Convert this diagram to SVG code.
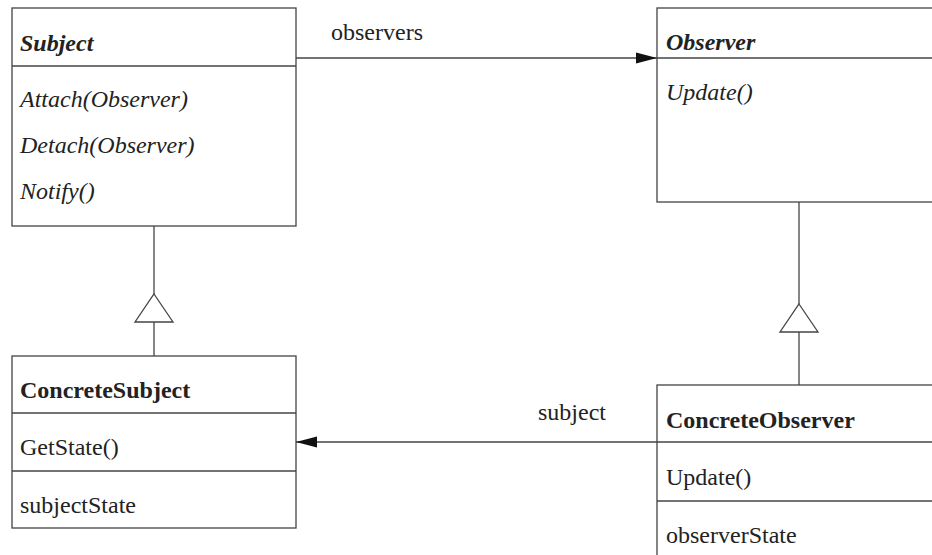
<svg xmlns="http://www.w3.org/2000/svg" width="932" height="555" viewBox="0 0 932 555">
<style>
.box{fill:#fff;stroke:#444;stroke-width:1.3}
.ln{stroke:#444;stroke-width:1.3;fill:none}
.t{font-family:'Liberation Serif','DejaVu Serif',serif;font-size:24px;fill:#222}
.b{font-weight:bold}
.i{font-style:italic}
.tri{fill:#fff;stroke:#444;stroke-width:1.3}
</style>
<defs>
<marker id="arr" markerWidth="22" markerHeight="12" refX="21" refY="6" orient="auto" markerUnits="userSpaceOnUse">
<path d="M0,0.5 L21,6 L0,11.5 Z" fill="#111"/>
</marker>
</defs>
<rect x="0" y="0" width="932" height="555" fill="#fff"/>
<g id="connectors">
<line class="ln" x1="296" y1="58" x2="657" y2="58" marker-end="url(#arr)"/>
<text class="t" x="331" y="40">observers</text>
<line class="ln" x1="657" y1="442" x2="296" y2="442" marker-end="url(#arr)"/>
<text class="t" x="538" y="420">subject</text>
<line class="ln" x1="154" y1="226" x2="154" y2="294"/>
<polygon class="tri" points="154,294 173,322 135,322"/>
<line class="ln" x1="154" y1="322" x2="154" y2="356"/>
<line class="ln" x1="799" y1="202" x2="799" y2="304"/>
<polygon class="tri" points="799,304 818,332 780,332"/>
<line class="ln" x1="799" y1="332" x2="799" y2="385"/>
</g>
<g id="Subject">
<rect class="box" x="12" y="8" width="284" height="218"/>
<line class="ln" x1="12" y1="66" x2="296" y2="66"/>
<text class="t b i" x="20" y="51">Subject</text>
<text class="t i" x="20" y="107">Attach(Observer)</text>
<text class="t i" x="20" y="153">Detach(Observer)</text>
<text class="t i" x="20" y="199">Notify()</text>
</g>
<g id="Observer">
<rect class="box" x="657" y="8" width="290" height="194"/>
<line class="ln" x1="657" y1="58" x2="947" y2="58"/>
<text class="t b i" x="666" y="50">Observer</text>
<text class="t i" x="666" y="100">Update()</text>
</g>
<g id="ConcreteSubject">
<rect class="box" x="12" y="356" width="284" height="172"/>
<line class="ln" x1="12" y1="413" x2="296" y2="413"/>
<line class="ln" x1="12" y1="471" x2="296" y2="471"/>
<text class="t b" x="20" y="398">ConcreteSubject</text>
<text class="t" x="20" y="455">GetState()</text>
<text class="t" x="20" y="513">subjectState</text>
</g>
<g id="ConcreteObserver">
<rect class="box" x="657" y="385" width="290" height="190"/>
<line class="ln" x1="657" y1="442" x2="947" y2="442"/>
<line class="ln" x1="657" y1="501" x2="947" y2="501"/>
<text class="t b" x="666" y="428">ConcreteObserver</text>
<text class="t" x="666" y="485">Update()</text>
<text class="t" x="666" y="543">observerState</text>
</g>
</svg>
